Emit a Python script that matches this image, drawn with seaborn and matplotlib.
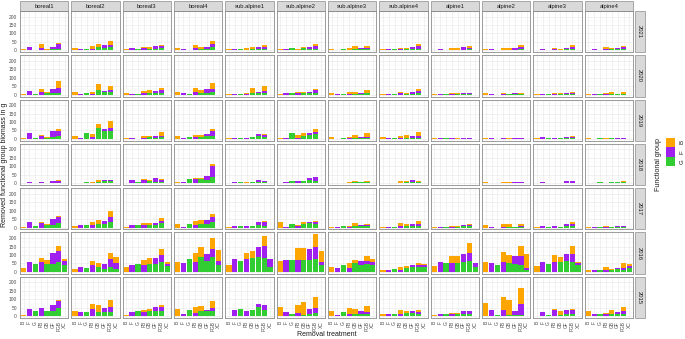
import seaborn as sns
import pandas as pd
import matplotlib.pyplot as plt
from matplotlib.patches import Rectangle

# Data
sites = ['boreal1', 'boreal2', 'boreal3', 'boreal4',
         'sub.alpine1', 'sub.alpine2', 'sub.alpine3', 'sub.alpine4',
         'alpine1', 'alpine2', 'alpine3', 'alpine4']
years = [2021, 2020, 2019, 2018, 2017, 2016, 2015]
treatments = ['B', 'F', 'G', 'FB', 'GB', 'GF', 'FGB', 'XC']
groups = ['B', 'F', 'G']
colors = {'B': '#FFA500', 'F': '#A020F0', 'G': '#32CD32'}

# what each number of a site row is: (treatment, functional group)
cells = [('B', 'B'), ('F', 'F'), ('G', 'G'), ('FB', 'F'), ('FB', 'B'),
         ('GB', 'G'), ('GB', 'B'), ('GF', 'G'), ('GF', 'F'),
         ('FGB', 'G'), ('FGB', 'F'), ('FGB', 'B'),
         ('XC', 'G'), ('XC', 'F'), ('XC', 'B')]

# one row per site, in the order of `sites`
bio_2021 = [
    [5, 20, 3, 15, 23, 3, 7, 8, 14, 8, 27, 8],
    [12, 5, 10, 8, 15, 22, 18, 15, 15, 20, 13, 22],
    [10, 12, 5, 12, 10, 10, 12, 10, 15, 12, 12, 8],
    [15, 10, 3, 15, 18, 8, 12, 8, 12, 18, 20, 20],
    [5, 5, 5, 3, 10, 5, 12, 8, 12, 8, 12, 14],
    [5, 8, 15, 4, 4, 12, 10, 10, 10, 10, 15, 15],
    [8, 2, 8, 3, 10, 10, 18, 8, 8, 8, 4, 16],
    [8, 8, 5, 5, 10, 6, 10, 8, 12, 8, 15, 12],
    [3, 5, 3, 4, 8, 4, 12, 4, 15, 5, 10, 12],
    [8, 8, 0, 3, 10, 3, 8, 3, 8, 5, 12, 15],
    [3, 8, 3, 5, 10, 3, 5, 5, 8, 5, 12, 15],
    [3, 8, 3, 5, 15, 5, 8, 5, 10, 8, 10, 10],
]
bio_2020 = [
    [5, 20, 3, 18, 17, 8, 7, 10, 25, 10, 28, 44],
    [15, 3, 10, 3, 12, 25, 40, 15, 8, 18, 8, 27],
    [8, 5, 3, 8, 12, 10, 15, 12, 8, 12, 15, 15],
    [15, 12, 3, 15, 25, 10, 20, 12, 20, 15, 20, 33],
    [3, 5, 5, 3, 5, 10, 27, 8, 10, 10, 12, 28],
    [5, 8, 8, 10, 5, 8, 10, 12, 6, 10, 15, 10],
    [12, 2, 2, 3, 15, 5, 13, 5, 2, 8, 2, 20],
    [5, 5, 3, 8, 10, 5, 3, 5, 10, 8, 12, 15],
    [3, 3, 2, 3, 5, 3, 5, 3, 5, 3, 5, 3],
    [8, 3, 0, 3, 5, 2, 3, 2, 5, 3, 3, 5],
    [5, 5, 2, 3, 5, 3, 5, 3, 8, 3, 5, 5],
    [3, 3, 2, 3, 5, 3, 12, 3, 3, 3, 3, 10],
]
bio_2019 = [
    [3, 35, 8, 20, 5, 8, 6, 10, 38, 15, 30, 15],
    [20, 8, 35, 10, 20, 62, 25, 45, 15, 45, 17, 43],
    [5, 3, 2, 8, 12, 10, 8, 8, 8, 10, 10, 20],
    [18, 5, 10, 10, 15, 12, 13, 15, 12, 15, 30, 15],
    [3, 8, 8, 8, 0, 12, 0, 15, 12, 10, 12, 5],
    [8, 8, 36, 8, 18, 20, 18, 25, 10, 30, 10, 20],
    [10, 2, 5, 3, 8, 8, 15, 5, 8, 8, 5, 25],
    [12, 5, 3, 5, 15, 5, 20, 8, 8, 8, 10, 25],
    [3, 3, 3, 3, 0, 2, 2, 2, 4, 2, 3, 1],
    [3, 5, 0, 3, 2, 1, 3, 1, 3, 1, 2, 3],
    [3, 14, 3, 8, 0, 4, 4, 3, 8, 4, 6, 8],
    [3, 2, 3, 2, 3, 3, 3, 2, 3, 2, 3, 2],
]
bio_2018 = [
    [0, 8, 2, 10, 0, 2, 1, 3, 10, 3, 12, 2],
    [3, 3, 5, 3, 5, 10, 10, 12, 5, 12, 5, 5],
    [3, 18, 10, 18, 8, 12, 5, 10, 20, 10, 8, 5],
    [5, 8, 28, 28, 2, 25, 5, 22, 23, 35, 67, 13],
    [2, 5, 5, 3, 2, 5, 3, 5, 12, 5, 8, 2],
    [0, 8, 12, 12, 0, 12, 0, 20, 13, 12, 23, 0],
    [3, 3, 3, 3, 5, 5, 8, 5, 5, 5, 3, 5],
    [0, 3, 3, 3, 8, 5, 8, 10, 8, 5, 5, 5],
    [1, 2, 2, 1, 1, 1, 1, 2, 1, 2, 1, 1],
    [5, 3, 0, 3, 2, 2, 6, 2, 5, 2, 3, 5],
    [0, 5, 3, 3, 0, 3, 0, 3, 10, 3, 8, 2],
    [3, 3, 5, 3, 0, 5, 3, 5, 5, 5, 5, 3],
]
bio_2017 = [
    [3, 33, 10, 25, 5, 15, 7, 15, 35, 25, 37, 6],
    [10, 15, 15, 15, 20, 22, 25, 20, 20, 35, 25, 35],
    [5, 15, 15, 15, 12, 15, 12, 15, 12, 25, 15, 18],
    [22, 5, 20, 15, 22, 20, 25, 20, 22, 35, 30, 18],
    [2, 10, 10, 10, 0, 10, 0, 15, 18, 12, 20, 6],
    [30, 5, 20, 10, 5, 20, 15, 25, 10, 22, 12, 4],
    [5, 3, 8, 5, 5, 10, 15, 8, 8, 8, 5, 10],
    [5, 5, 5, 8, 20, 10, 10, 10, 12, 10, 10, 20],
    [2, 5, 5, 5, 2, 5, 5, 8, 8, 8, 8, 6],
    [15, 5, 0, 5, 15, 3, 17, 3, 3, 3, 8, 10],
    [2, 8, 5, 8, 0, 5, 0, 8, 10, 10, 10, 10],
    [5, 5, 3, 5, 5, 3, 3, 3, 5, 3, 4, 5],
]
bio_2016 = [
    [24, 58, 46, 58, 24, 48, 24, 48, 66, 58, 68, 30, 38, 28, 10],
    [18, 26, 22, 40, 22, 26, 26, 18, 30, 26, 52, 36, 18, 32, 40],
    [26, 42, 44, 40, 32, 44, 36, 44, 40, 60, 40, 38, 36, 12, 12],
    [60, 50, 74, 56, 56, 86, 62, 62, 44, 86, 50, 64, 40, 24, 68],
    [40, 76, 66, 76, 36, 80, 46, 86, 62, 82, 70, 62, 26, 48, 0],
    [62, 72, 72, 72, 70, 68, 74, 68, 68, 76, 74, 72, 40, 16, 66],
    [30, 22, 40, 22, 32, 52, 20, 40, 24, 44, 22, 26, 40, 20, 14],
    [8, 12, 14, 12, 16, 24, 12, 30, 12, 28, 10, 12, 30, 12, 6],
    [36, 56, 50, 54, 40, 52, 44, 58, 46, 62, 50, 56, 26, 24, 4],
    [56, 50, 42, 60, 56, 50, 52, 46, 46, 40, 54, 58, 12, 12, 84],
    [36, 60, 48, 60, 42, 60, 28, 62, 46, 60, 46, 46, 38, 16, 4],
    [8, 8, 8, 8, 22, 12, 6, 14, 8, 10, 10, 34, 20, 16, 10],
]
bio_2015 = [
    [5, 40, 32, 46, 2, 30, 1, 32, 36, 46, 44, 8],
    [30, 26, 24, 40, 32, 26, 40, 22, 26, 22, 32, 42],
    [8, 22, 32, 26, 12, 28, 16, 28, 24, 30, 22, 12],
    [45, 10, 34, 20, 32, 28, 34, 30, 8, 32, 14, 42],
    [3, 34, 42, 32, 0, 38, 0, 52, 18, 36, 28, 2],
    [55, 22, 14, 20, 44, 8, 74, 12, 30, 16, 30, 66],
    [32, 6, 22, 10, 40, 14, 26, 14, 14, 14, 10, 34],
    [12, 10, 10, 10, 24, 20, 12, 20, 10, 14, 10, 14],
    [5, 14, 10, 10, 8, 12, 6, 14, 14, 14, 14, 4],
    [76, 38, 8, 36, 78, 6, 90, 8, 24, 6, 64, 94],
    [3, 22, 8, 34, 8, 8, 22, 12, 26, 14, 22, 8],
    [28, 12, 12, 10, 10, 14, 22, 14, 12, 14, 14, 24],
]
biomass = {2021: bio_2021, 2020: bio_2020, 2019: bio_2019, 2018: bio_2018,
           2017: bio_2017, 2016: bio_2016, 2015: bio_2015}

records = []
for year in years:
    for site, row in zip(sites, biomass[year]):
        for (trt, grp), v in zip(cells, row):
            records.append({'year': year, 'site': site, 'treatment': trt,
                            'group': grp, 'biomass': v})
df = pd.DataFrame(records)

wide = df.pivot_table(index=['year', 'site', 'treatment'], columns='group',
                      values='biomass', aggfunc='sum', fill_value=0).reset_index()
# cumulative heights: G at the bottom, then F, then B on top
wide['top_G'] = wide['G']
wide['top_F'] = wide['G'] + wide['F']
wide['top_B'] = wide['top_F'] + wide['B']

sns.set_style('white')
plt.rcParams['font.family'] = ['Liberation Sans', 'DejaVu Sans']

g = sns.FacetGrid(wide, row='year', col='site', row_order=years, col_order=sites,
                  height=0.6, aspect=1.15, despine=False)
for col, grp in [('top_B', 'B'), ('top_F', 'F'), ('top_G', 'G')]:
    g.map_dataframe(sns.barplot, x='treatment', y=col, order=treatments,
                    color=colors[grp], width=0.9, errorbar=None,
                    linewidth=0, saturation=1)

g.set_titles('')
g.set_axis_labels('', '')
fig = g.figure
fig.set_size_inches(6.85, 3.39)
W, H = 685, 339
left, right, top, bottom = 20 / W, 633 / W, 1 - 11 / H, 1 - 318 / H
fig.subplots_adjust(left=left, right=right, top=top, bottom=bottom,
                    wspace=0.065, hspace=0.075)

ymax = wide['top_B'].max()
ylo, yhi = -0.05 * ymax, 1.05 * ymax
border = '#8C8C8C'
tick_col = '#4D4D4D'
nrow, ncol = g.axes.shape
for i in range(nrow):
    for j in range(ncol):
        ax = g.axes[i, j]
        ax.set_xlim(-0.6, len(treatments) - 0.4)
        ax.set_ylim(ylo, yhi)
        ax.set_xticks(range(len(treatments)))
        ax.set_yticks([0, 50, 100, 150, 200])
        ax.set_yticks([v for v in [25, 75, 125, 175, 225] if v < yhi], minor=True)
        ax.set_axisbelow(True)
        ax.grid(which='major', color='#EBEBEB', linewidth=0.5)
        ax.grid(which='minor', axis='y', color='#F3F3F3', linewidth=0.3)
        ax.set_xlabel('')
        ax.set_ylabel('')
        for s in ax.spines.values():
            s.set_color(border)
            s.set_linewidth(0.6)
        ax.tick_params(which='minor', length=0)
        if i == nrow - 1:
            ax.set_xticklabels(treatments, rotation=90, fontsize=3.5, color=tick_col)
            ax.tick_params(axis='x', length=1.5, width=0.4, color=tick_col, pad=0.8)
        else:
            ax.tick_params(axis='x', length=0, labelbottom=False)
        if j == 0:
            ax.tick_params(axis='y', length=1.5, width=0.4, color=tick_col,
                           labelsize=3.5, labelcolor=tick_col, pad=0.8)
        else:
            ax.tick_params(axis='y', length=0, labelleft=False)
        # strips
        if i == 0:
            ax.add_patch(Rectangle((0, 1.005), 1, 0.235, transform=ax.transAxes,
                                   facecolor='#D9D9D9', edgecolor=border,
                                   linewidth=0.5, clip_on=False))
            ax.text(0.5, 1.12, sites[j], transform=ax.transAxes, ha='center',
                    va='center', fontsize=4.2, color='#1A1A1A')
        if j == ncol - 1:
            ax.add_patch(Rectangle((1.035, 0), 0.205, 1, transform=ax.transAxes,
                                   facecolor='#D9D9D9', edgecolor=border,
                                   linewidth=0.5, clip_on=False))
            ax.text(1.1375, 0.5, str(years[i]), transform=ax.transAxes,
                    ha='center', va='center', rotation=-90, fontsize=4.2,
                    color='#1A1A1A')

fig.text(5 / W, 1 - 164.5 / H, 'Removed functional group biomass in g',
         rotation=90, ha='center', va='center', fontsize=5, color='#1A1A1A')
fig.text((20 + 633) / 2 / W, 1 - 335 / H, 'Removal treatment',
         ha='center', va='center', fontsize=5, color='#1A1A1A')

# legend
fig.text(658 / W, 1 - 164.5 / H, 'Functional group', rotation=90,
         ha='center', va='center', fontsize=5, color='#1A1A1A')
key_h = 9.8
for k, grp in enumerate(groups):
    y0 = 137.5 + k * key_h
    fig.add_artist(Rectangle((666 / W, 1 - (y0 + key_h - 0.5) / H), 9 / W,
                             (key_h - 0.5) / H, transform=fig.transFigure,
                             facecolor=colors[grp], edgecolor='none'))
    fig.text(682 / W, 1 - (y0 + key_h / 2) / H, grp, rotation=90,
             ha='center', va='center', fontsize=4.4, color='#1A1A1A')

fig.savefig('out.png', dpi=100)
